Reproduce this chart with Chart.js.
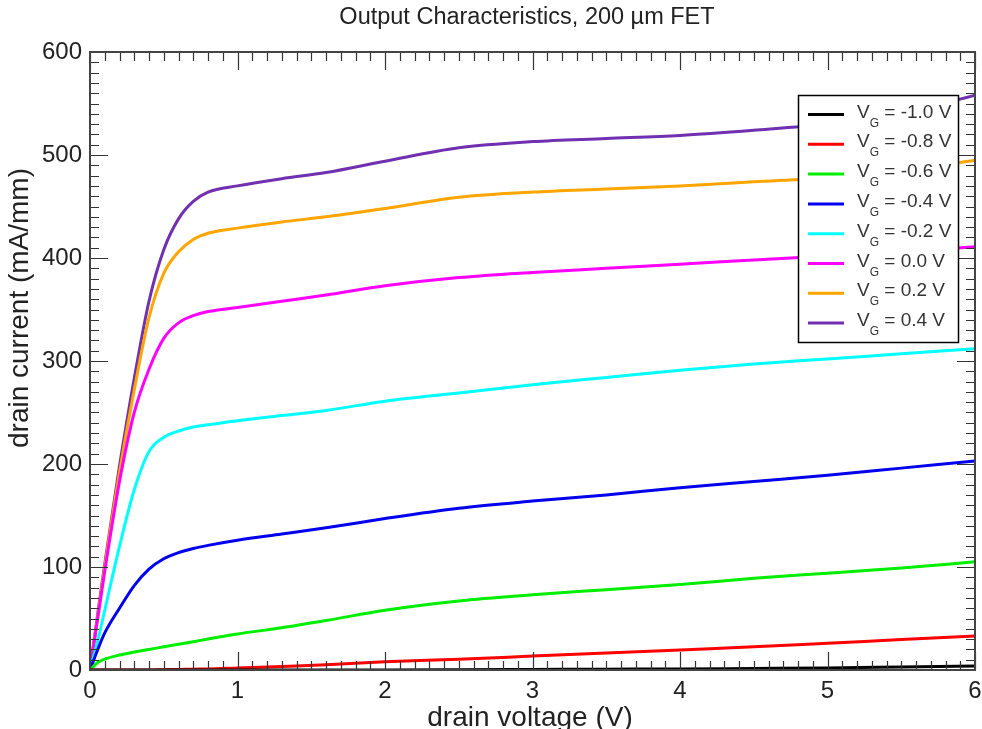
<!DOCTYPE html>
<html lang="en">
<head>
  <meta charset="UTF-8" />
  <title>Output Characteristics, 200 µm FET</title>
  <script src="https://cdn.jsdelivr.net/npm/chart.js"></script>
  <style>
    body {
      margin: 0;
      padding: 0;
      background: #ffffff;
    }
    canvas {
      display: block;
    }
  </style>
</head>
<body>

<canvas id="ivChart" width="982" height="729"></canvas>

<script>
  // drain voltage grid (V)
  const vd = [0, 0.05, 0.1, 0.2, 0.3, 0.4, 0.5, 0.6, 0.7, 0.8, 1.0, 1.3, 1.6, 2.0, 2.5, 3.0, 3.5, 4.0, 4.5, 5.0, 5.5, 6.0];

  // drain current (mA/mm) for each gate voltage
  const idVgM10 = [0, 0, 0, 0, 0, 0, 0, 0, 0, 0, 0, 0, 0, 0, 0.2, 0.5, 0.8, 1, 1.5, 2, 3, 4];
  const idVgM08 = [0, 0, 0, 0, 0, 0, 0.3, 0.5, 0.8, 1, 2, 3.5, 5, 8, 10.5, 13.5, 16.5, 19.5, 22.5, 26, 29.5, 33];
  const idVgM06 = [0, 7, 10.5, 14.5, 17.5, 20, 22.5, 25, 27.5, 30, 35, 41, 48, 58, 67, 73, 78, 83, 89, 94, 99, 105];
  const idVgM04 = [0, 19, 36, 60, 82, 98, 108, 114, 118, 121, 126, 132, 138, 147, 157, 164, 170, 177, 183, 189, 196, 203];
  const idVgM02 = [0, 27, 58, 120, 175, 212, 226, 232, 236, 238, 242, 247, 252, 261, 269, 277, 284, 291, 297, 302, 307, 312];
  const idVg00  = [0, 48, 96, 183, 250, 292, 322, 337, 344, 348, 352, 358, 364, 373, 381, 386, 390, 394, 398, 402, 406, 411];
  const idVgP02 = [0, 50, 100, 192, 272, 342, 385, 406, 418, 424, 429, 435, 440, 448, 459, 464, 467, 470, 474, 478, 485, 495];
  const idVgP04 = [0, 52, 103, 198, 283, 358, 408, 438, 455, 464, 470, 477, 483, 494, 507, 513, 516, 519, 524, 530, 540, 558];

  const gateLabels = ['-1.0', '-0.8', '-0.6', '-0.4', '-0.2', '0.0', '0.2', '0.4'];
  const seriesData = [idVgM10, idVgM08, idVgM06, idVgM04, idVgM02, idVg00, idVgP02, idVgP04];
  const seriesColors = ['#000000', '#ff0000', '#00ee00', '#0000ee', '#00ffff', '#ff00ff', '#ffa500', '#7030b0'];

  const xTicks = [0, 1, 2, 3, 4, 5, 6];
  const yTicks = [0, 100, 200, 300, 400, 500, 600];

  const FONT = '"Liberation Sans", Arial, sans-serif';

  const datasets = seriesData.map((ys, i) => ({
    label: 'VG = ' + gateLabels[i] + ' V',
    data: vd.map((v, j) => ({ x: v, y: ys[j] })),
    borderColor: seriesColors[i],
    backgroundColor: seriesColors[i],
    borderWidth: 3,
    pointRadius: 0,
    cubicInterpolationMode: 'monotone',
    fill: false
  }));

  // frame, inward ticks on all four sides, titles and legend
  const framePlugin = {
    id: 'frame',
    afterDraw(chart) {
      const c = chart.ctx;
      const a = chart.chartArea;
      const xs = chart.scales.x;
      const ys = chart.scales.y;
      c.save();

      c.strokeStyle = '#333';
      c.lineWidth = 1.2;
      c.beginPath();
      for (let i = 0; i <= 60; i++) {
        const px = Math.round(xs.getPixelForValue(i / 10)) + 0.5;
        const len = i % 10 === 0 ? 18 : 9;
        c.moveTo(px, a.bottom); c.lineTo(px, a.bottom - len);
        c.moveTo(px, a.top); c.lineTo(px, a.top + len);
      }
      for (let i = 0; i <= 60; i++) {
        const py = Math.round(ys.getPixelForValue(i * 10)) + 0.5;
        const len = i % 10 === 0 ? 18 : 9;
        c.moveTo(a.left, py); c.lineTo(a.left + len, py);
        c.moveTo(a.right, py); c.lineTo(a.right - len, py);
      }
      c.stroke();

      c.strokeStyle = '#444';
      c.lineWidth = 2;
      c.strokeRect(a.left, a.top, a.right - a.left, a.bottom - a.top);

      // titles
      c.fillStyle = '#222';
      c.textAlign = 'center';
      c.textBaseline = 'middle';
      c.font = '23.5px ' + FONT;
      c.fillText('Output Characteristics, 200 \u00b5m FET', 527, 18);
      c.font = '28px ' + FONT;
      c.fillText('drain voltage (V)', 530, 718);
      c.save();
      c.translate(20, 308);
      c.rotate(-Math.PI / 2);
      c.fillText('drain current (mA/mm)', 0, 0);
      c.restore();

      // legend
      const lx = 798, ly = 95, lw = 160, lh = 247, step = 29.8;
      c.fillStyle = '#fff';
      c.fillRect(lx, ly, lw, lh);
      c.strokeStyle = '#000';
      c.lineWidth = 1.5;
      c.strokeRect(lx + 0.5, ly + 0.5, lw, lh);
      chart.data.datasets.forEach((ds, i) => {
        const cy = 114.5 + i * step;
        c.strokeStyle = ds.borderColor;
        c.lineWidth = 3;
        c.beginPath();
        c.moveTo(808, cy); c.lineTo(844, cy);
        c.stroke();
        c.fillStyle = '#333';
        c.textAlign = 'left';
        c.textBaseline = 'alphabetic';
        c.font = '19px ' + FONT;
        c.fillText('V', 857, cy + 3);
        const vw = c.measureText('V').width;
        c.font = '12px ' + FONT;
        c.fillText('G', 857 + vw, cy + 12);
        const gw = c.measureText('G').width;
        c.font = '19px ' + FONT;
        c.fillText(' = ' + gateLabels[i] + ' V', 857 + vw + gw, cy + 3);
      });

      c.restore();
    }
  };

  new Chart(document.getElementById('ivChart'), {
    type: 'line',
    data: { datasets: datasets },
    options: {
      responsive: false,
      animation: false,
      layout: { padding: { top: 52, right: 7, left: 0, bottom: 0 } },
      plugins: {
        legend: { display: false },
        title: { display: false },
        tooltip: { enabled: false }
      },
      scales: {
        x: {
          type: 'linear',
          min: 0,
          max: 6,
          afterBuildTicks: s => { s.ticks = xTicks.map(v => ({ value: v })); },
          afterFit: s => { s.height = 59; s.paddingLeft = 0; s.paddingRight = 0; },
          grid: { display: false, drawTicks: false },
          border: { display: false },
          ticks: {
            padding: 7,
            color: '#222',
            font: { family: FONT, size: 24 },
            maxRotation: 0
          }
        },
        y: {
          type: 'linear',
          min: 0,
          max: 600,
          afterBuildTicks: s => { s.ticks = yTicks.map(v => ({ value: v })); },
          afterFit: s => { s.width = 90; s.paddingTop = 0; s.paddingBottom = 0; },
          grid: { display: false, drawTicks: false },
          border: { display: false },
          ticks: {
            padding: 8,
            color: '#222',
            font: { family: FONT, size: 24 }
          }
        }
      }
    },
    plugins: [framePlugin]
  });
</script>

</body>
</html>
